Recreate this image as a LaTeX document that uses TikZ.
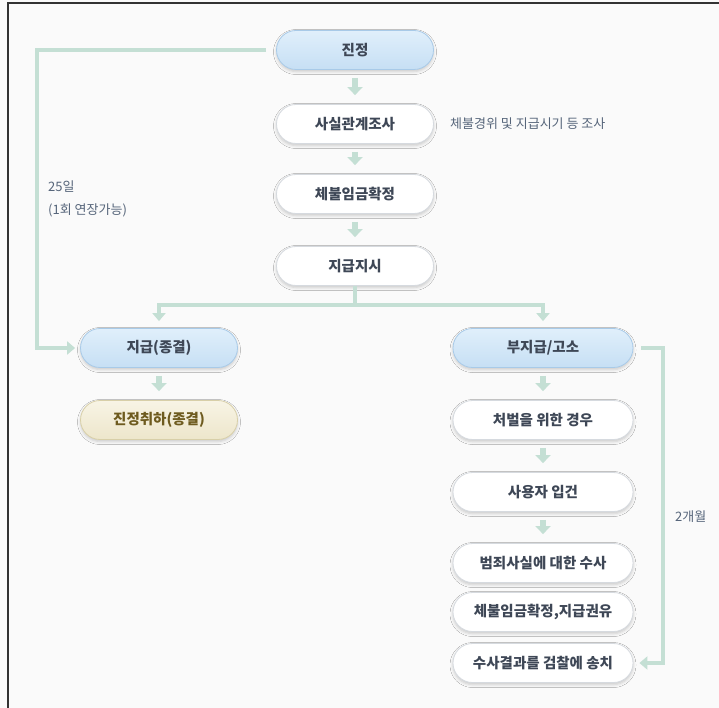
\documentclass[tikz,border=0pt]{standalone}
\usepackage{fontspec}
\setmainfont{Noto Sans CJK KR}
\usetikzlibrary{arrows.meta,shadows.blur}
\definecolor{bgc}{HTML}{FAFAFA}
\definecolor{frame}{HTML}{333333}
\definecolor{arr}{HTML}{C4DFD4}
\definecolor{txt}{HTML}{3E4756}
\definecolor{sidetxt}{HTML}{56657A}
\definecolor{boxline}{HTML}{D6DADF}
\definecolor{blA}{HTML}{E0EFFB}
\definecolor{blB}{HTML}{C6DFF4}
\definecolor{blline}{HTML}{A8CAE8}
\definecolor{beA}{HTML}{F8F4E5}
\definecolor{beB}{HTML}{EDE6CB}
\definecolor{beline}{HTML}{D8CFA8}
\definecolor{betxt}{HTML}{6E5B1F}
\begin{document}
\begin{tikzpicture}[x=1pt,y=-1pt,
  box/.style={rectangle, rounded corners=19.5pt, minimum width=157pt, minimum height=39pt,
    draw=boxline, line width=0.8pt, fill=white, text=txt,
    font=\fontsize{14.5}{17}\selectfont\bfseries,
    blur shadow={shadow xshift=0pt, shadow yshift=-2pt, shadow blur radius=3pt, shadow opacity=20}},
  wide/.style={minimum width=180pt},
  bluebox/.style={box, top color=blA, bottom color=blB, draw=blline},
  beigebox/.style={box, top color=beA, bottom color=beB, draw=beline, text=betxt},
  side/.style={anchor=west, inner sep=0pt, text=sidetxt, font=\fontsize{13}{16}\selectfont},
  sarrow/.style={draw=arr, line width=6.5pt, -{Triangle[width=15pt,length=8pt]}, shorten <=8pt, shorten >=9pt},
  conn/.style={draw=arr, line width=4pt, -{Triangle[width=13pt,length=8pt]}}
]
\fill[bgc] (0,0) rectangle (719,708);
\useasboundingbox (0,0) rectangle (719,708);
\draw[frame, line width=2pt] (7.5,708) -- (7.5,3.5) -- (719,3.5);

% main column
\node[bluebox] (jj) at (355,50) {진정};
\node[box] (sg) at (355,124) {사실관계조사};
\node[box] (ch) at (355,194) {체불임금확정};
\node[box] (js) at (355,266) {지급지시};

% left branch
\node[bluebox] (jg) at (159,348) {지급(종결)};
\node[beigebox] (jh) at (159,420) {진정취하(종결)};

% right branch
\node[bluebox, wide] (bj) at (543,348) {부지급/고소};
\node[box, wide] (cb) at (543,420) {처벌을 위한 경우};
\node[box, wide] (sy) at (543,492) {사용자 입건};
\node[box, wide] (bs) at (543,563) {범죄사실에 대한 수사};
\node[box, wide] (cj) at (543,612) {체불임금확정,지급권유};
\node[box, wide] (ss) at (543,663) {수사결과를 검찰에 송치};

% labels
\node[side] (lbA) at (450,124) {체불경위 및 지급시기 등 조사};
\node[side] (lbB) at (48,187) {25일};
\node[side] (lbC) at (48,210) {(1회 연장가능)};
\node[side] (lbD) at (675,517) {2개월};

% short arrows
\draw[sarrow] (jj) -- (sg);
\draw[sarrow] (sg) -- (ch);
\draw[sarrow] (ch) -- (js);
\draw[sarrow] (jg) -- (jh);
\draw[sarrow] (bj) -- (cb);
\draw[sarrow] (cb) -- (sy);
\draw[sarrow] (sy) -- (bs);

% branch
\draw[conn, shorten >=7pt] (js.south) -- ++(0,19.5) -| (jg.north);
\draw[conn, shorten >=7pt] (js.south) -- ++(0,19.5) -| (bj.north);

% loops
\draw[conn, shorten <=10pt, shorten >=5pt] (jj.west) -- ++(-239.5,0) |- (jg.west);
\draw[conn, shorten <=8pt, shorten >=6pt] (bj.east) -- ++(30,0) |- (ss.east);
\end{tikzpicture}
\end{document}
